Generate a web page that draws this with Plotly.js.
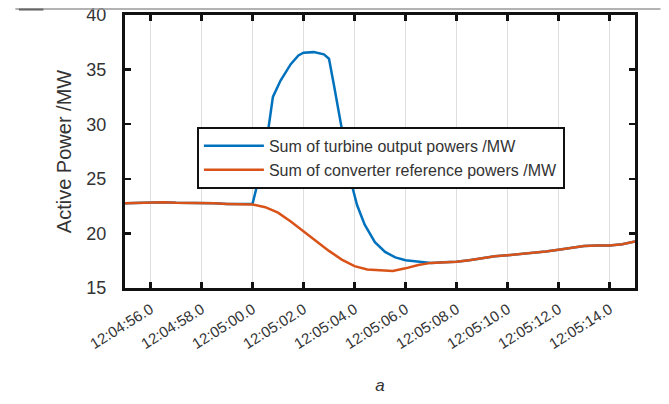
<!DOCTYPE html>
<html>
<head>
<meta charset="utf-8">
<script src="https://cdn.plot.ly/plotly-3.0.1.min.js"></script>
<style>
  html, body { margin: 0; padding: 0; background: #ffffff; }
  #chart { width: 669px; height: 404px; }
</style>
</head>
<body>
<div id="chart"></div>
<script>
// Time in seconds after 12:04:00
var turbineTime = [55.0, 55.5, 56.0, 56.5, 57.0, 57.5, 58.0, 58.5, 59.0, 59.5, 60.0,
  60.3, 60.6, 60.8, 61.1, 61.5, 61.8, 62.0, 62.4, 62.8, 63.0, 63.2, 63.5, 63.8,
  64.1, 64.4, 64.8, 65.2, 65.6, 66.0, 66.5, 67.0, 67.5, 68.0, 68.5, 69.0, 69.5,
  70.0, 70.5, 71.0, 71.5, 72.0, 72.5, 73.0, 73.5, 74.0, 74.5, 75.0];
var turbinePower = [22.75, 22.8, 22.85, 22.85, 22.8, 22.8, 22.75, 22.75, 22.7, 22.7, 22.7,
  25.5, 29.2, 32.5, 34.0, 35.5, 36.3, 36.55, 36.6, 36.4, 36.0, 33.5, 29.6, 25.3,
  22.6, 20.8, 19.2, 18.3, 17.8, 17.55, 17.4, 17.3, 17.35, 17.4, 17.55, 17.75, 17.9,
  18.0, 18.1, 18.25, 18.35, 18.5, 18.7, 18.85, 18.9, 18.9, 19.0, 19.25];

var converterTime = [55.0, 55.5, 56.0, 56.5, 57.0, 57.5, 58.0, 58.5, 59.0, 59.5, 60.0,
  60.5, 61.0, 61.5, 62.0, 62.5, 63.0, 63.5, 64.0, 64.5, 65.0, 65.5, 66.0, 66.5,
  67.0, 67.5, 68.0, 68.5, 69.0, 69.5, 70.0, 70.5, 71.0, 71.5, 72.0, 72.5, 73.0,
  73.5, 74.0, 74.5, 75.0];
var converterPower = [22.75, 22.8, 22.85, 22.85, 22.8, 22.8, 22.75, 22.75, 22.7, 22.7, 22.65,
  22.4, 21.9, 21.1, 20.2, 19.3, 18.4, 17.6, 17.0, 16.7, 16.6, 16.55, 16.8, 17.1,
  17.3, 17.35, 17.4, 17.55, 17.75, 17.9, 18.0, 18.1, 18.25, 18.35, 18.5, 18.7, 18.85,
  18.9, 18.9, 19.0, 19.25];

var xTickVals = [56, 58, 60, 62, 64, 66, 68, 70, 72, 74];
var xTickText = ['12:04:56.0', '12:04:58.0', '12:05:00.0', '12:05:02.0', '12:05:04.0',
  '12:05:06.0', '12:05:08.0', '12:05:10.0', '12:05:12.0', '12:05:14.0'];
var yTickVals = [15, 20, 25, 30, 35, 40];

var seriesNames = ['Sum of turbine output powers /MW', 'Sum of converter reference powers /MW'];

var font = 'Liberation Sans, Arial, sans-serif';

var traces = [
  {
    x: turbineTime, y: turbinePower, type: 'scatter', mode: 'lines',
    name: seriesNames[0],
    line: { color: '#0072BD', width: 2.5 }
  },
  {
    x: converterTime, y: converterPower, type: 'scatter', mode: 'lines',
    name: seriesNames[1],
    line: { color: '#D95319', width: 2.5 }
  }
];

var layout = {
  width: 669, height: 404,
  margin: { l: 125, r: 34, t: 15, b: 116 },
  paper_bgcolor: '#ffffff', plot_bgcolor: '#ffffff',
  font: { family: font, color: '#333333' },
  showlegend: true,
  legend: {
    x: 0.141, y: 0.59, xanchor: 'left', yanchor: 'top',
    bgcolor: '#ffffff', bordercolor: '#111111', borderwidth: 2,
    font: { family: font, size: 16, color: '#333333' },
    itemwidth: 60,
    tracegroupgap: 0
  },
  xaxis: {
    range: [55, 75],
    tickvals: xTickVals, ticktext: xTickText,
    tickangle: -32,
    tickfont: { family: font, size: 15, color: '#333333' },
    ticks: 'inside', ticklen: 6, tickwidth: 2.5, tickcolor: '#111111',
    showline: true, linecolor: '#111111', linewidth: 3, mirror: 'ticks',
    showgrid: true, gridcolor: '#dedede', gridwidth: 1.2,
    zeroline: false,
    ticklabelstandoff: 4,
    title: { text: 'a', font: { family: font, size: 17, style: 'italic', color: '#333333' }, standoff: 29 }
  },
  yaxis: {
    range: [15, 40],
    tickvals: yTickVals,
    tickfont: { family: font, size: 18, color: '#333333' },
    ticks: 'inside', ticklen: 6, tickwidth: 2.5, tickcolor: '#111111',
    showline: true, linecolor: '#111111', linewidth: 3, mirror: 'ticks',
    showgrid: false, zeroline: false,
    ticklabelstandoff: 12,
    title: { text: 'Active Power /MW', font: { family: font, size: 20, color: '#333333' }, standoff: 10 }
  },
  shapes: [
    { type: 'line', xref: 'paper', yref: 'paper', x0: -0.215, x1: 1.05, y0: 1.022, y1: 1.022,
      line: { color: '#9a9a9a', width: 1.5 } },
    { type: 'line', xref: 'paper', yref: 'paper', x0: -0.208, x1: -0.16, y0: 1.02, y1: 1.02,
      line: { color: '#666666', width: 2 } }
  ]
};

Plotly.newPlot('chart', traces, layout, { displayModeBar: false, staticPlot: true });
</script>
</body>
</html>
